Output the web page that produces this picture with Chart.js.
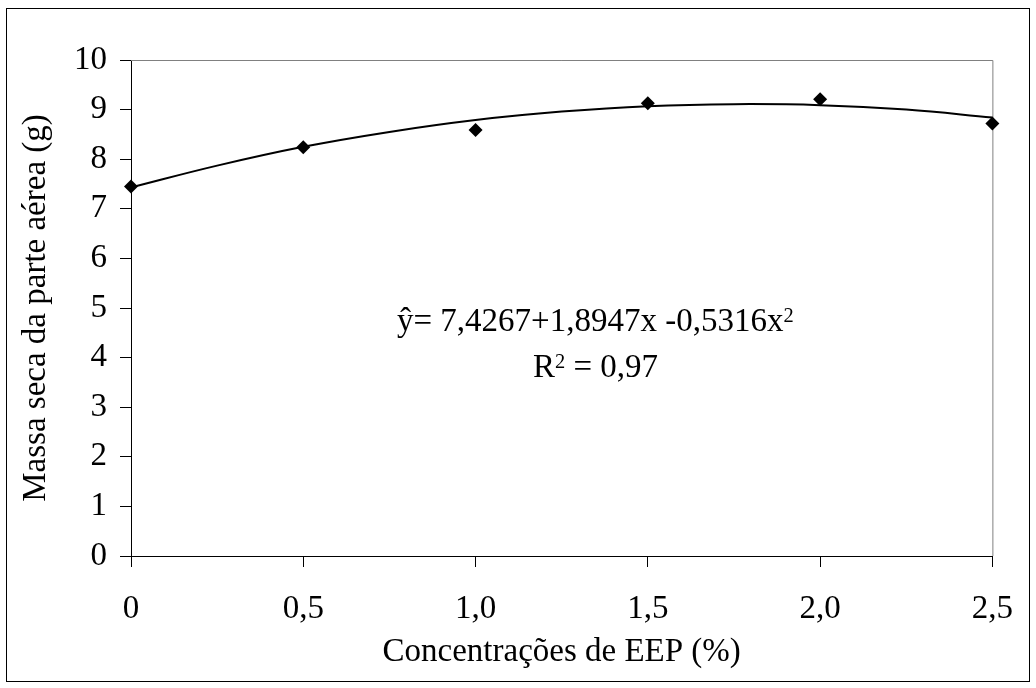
<!DOCTYPE html>
<html>
<head>
<meta charset="utf-8">
<script src="https://cdn.jsdelivr.net/npm/chart.js@4/dist/chart.umd.min.js"></script>
<style>
  html, body { margin: 0; padding: 0; background: #fff; }
  #wrap { position: relative; width: 1036px; height: 688px; }
  #myChart { position: absolute; left: 0; top: 0; }
  .eq { position: absolute; font-family: "Liberation Serif", "Times New Roman", serif;
        font-size: 33px; line-height: 33px; color: #000; white-space: nowrap; }
  .sup { position: relative; top: -0.45em; font-size: 0.62em; }
</style>
</head>
<body>
<div id="wrap">
  <canvas id="myChart" width="1036" height="688"></canvas>
  <div class="eq" style="left:397px; top:304px;">ŷ= 7,4267+1,8947x -0,5316x<span class="sup">2</span></div>
  <div class="eq" style="left:533px; top:350px;">R<span class="sup">2</span> = 0,97</div>
</div>
<script>
// valores observados
const concentracoes = [0, 0.5, 1.0, 1.5, 2.0, 2.5];
const massaSeca = [7.45, 8.24, 8.59, 9.13, 9.21, 8.72];

// curva de tendência
const curvaX = [0, 0.25, 0.5, 0.75, 1.0, 1.25, 1.5, 1.75, 2.0, 2.25, 2.5];
const curvaY = [7.43, 7.87, 8.25, 8.55, 8.79, 8.96, 9.07, 9.11, 9.09, 9.00, 8.84];

const xTickLabels = ["0", "0,5", "1,0", "1,5", "2,0", "2,5"];
const yTickLabels = ["0", "1", "2", "3", "4", "5", "6", "7", "8", "9", "10"];

const serif = "'Liberation Serif', 'Times New Roman', serif";

// moldura externa e bordas cinza do topo/direita
const frame = {
  id: "frame",
  beforeDatasetsDraw(chart) {
    const { ctx, chartArea: a } = chart;
    ctx.save();
    ctx.strokeStyle = "#808080";
    ctx.lineWidth = 1;
    ctx.beginPath();
    ctx.moveTo(a.left, a.top + 0.5);
    ctx.lineTo(a.right + 0.5, a.top + 0.5);
    ctx.lineTo(a.right + 0.5, a.bottom);
    ctx.stroke();
    ctx.restore();
  },
  afterDraw(chart) {
    const ctx = chart.ctx;
    ctx.save();
    ctx.strokeStyle = "#000";
    ctx.lineWidth = 1;
    ctx.strokeRect(6.5, 8.5, 1023, 673);
    ctx.restore();
  }
};

new Chart(document.getElementById("myChart"), {
  type: "scatter",
  data: {
    datasets: [
      {
        label: "Observado",
        data: concentracoes.map((x, i) => ({ x: x, y: massaSeca[i] })),
        pointStyle: "rectRot",
        pointRadius: 7,
        pointBackgroundColor: "#000",
        pointBorderColor: "#000",
        borderWidth: 0,
        showLine: false,
        clip: false,
        order: 0
      },
      {
        label: "Ajuste",
        data: curvaX.map((x, i) => ({ x: x, y: curvaY[i] })),
        showLine: true,
        borderColor: "#000",
        borderWidth: 2,
        pointRadius: 0,
        tension: 0.4,
        clip: false,
        order: 1
      }
    ]
  },
  options: {
    responsive: false,
    animation: false,
    events: [],
    layout: { padding: { left: 0, top: 60, right: 40, bottom: 0 } },
    plugins: {
      legend: { display: false },
      tooltip: { enabled: false }
    },
    scales: {
      x: {
        type: "linear",
        min: 0,
        max: 2.5,
        afterFit: s => { s.height = 132; },
        afterBuildTicks: s => { s.ticks = xTickLabels.map((_, i) => ({ value: i * 0.5 })); },
        ticks: {
          callback: (v, i) => xTickLabels[i],
          font: { family: serif, size: 33 },
          color: "#000",
          padding: 23,
          maxRotation: 0
        },
        grid: { drawOnChartArea: false, drawTicks: true, tickLength: 11, color: "#000" },
        border: { display: true, color: "#000", width: 1 },
        title: {
          display: true,
          text: "Concentrações de EEP (%)",
          font: { family: serif, size: 33 },
          color: "#000",
          padding: { top: 0, bottom: 16 }
        }
      },
      y: {
        type: "linear",
        min: 0,
        max: 10,
        afterFit: s => { s.width = 131; },
        afterBuildTicks: s => { s.ticks = yTickLabels.map((_, i) => ({ value: i })); },
        ticks: {
          callback: (v, i) => yTickLabels[i],
          font: { family: serif, size: 33 },
          color: "#000",
          padding: 13
        },
        grid: { drawOnChartArea: false, drawTicks: true, tickLength: 11, color: "#000" },
        border: { display: true, color: "#000", width: 1 },
        title: {
          display: true,
          text: "Massa seca da parte aérea (g)",
          font: { family: serif, size: 33 },
          color: "#000",
          padding: { top: 17, bottom: 0 }
        }
      }
    }
  },
  plugins: [frame]
});
</script>
</body>
</html>
